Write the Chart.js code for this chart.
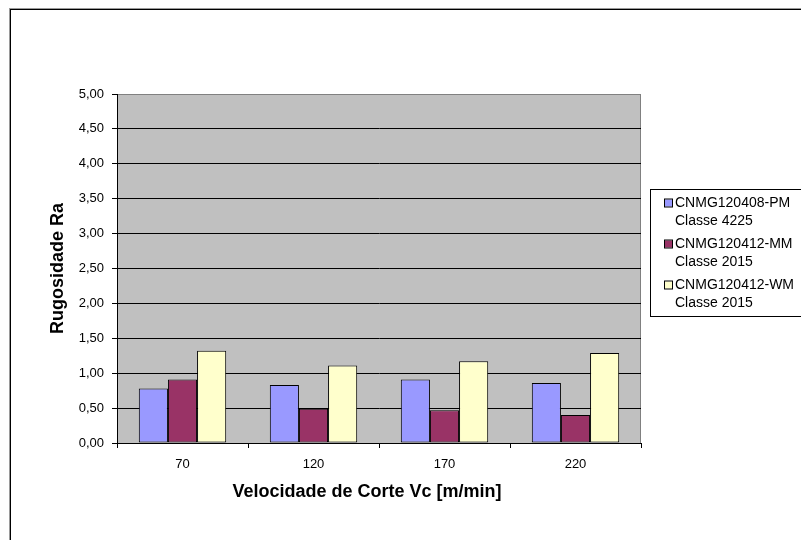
<!DOCTYPE html>
<html>
<head>
<meta charset="utf-8">
<script src="https://cdn.jsdelivr.net/npm/chart.js@4/dist/chart.umd.min.js"></script>
<style>
  html, body { margin: 0; padding: 0; background: #fff; }
  #wrap { position: relative; width: 801px; height: 540px; overflow: hidden; }
  #frame { position: absolute; left: 10px; top: 9px; width: 900px; height: 700px;
           border-left: 1px solid #000; border-top: 1px solid #000;
           box-shadow: -1px -1px 0 #9a9a9a; }
  canvas { position: absolute; left: 0; top: 0; }
</style>
</head>
<body>
<div id="wrap">
  <div id="frame"></div>
  <canvas id="chart" width="801" height="540"></canvas>
</div>
<script>
// Cutting speeds (m/min)
const categories = ['70', '120', '170', '220'];

// Surface roughness Ra for each insert
const pmValues = [0.78, 0.83, 0.91, 0.86];
const mmValues = [0.91, 0.49, 0.47, 0.40];
const wmValues = [1.32, 1.11, 1.17, 1.29];

// Legend entries (two lines each)
const seriesLabels = [
  ['CNMG120408-PM', 'Classe 4225'],
  ['CNMG120412-MM', 'Classe 2015'],
  ['CNMG120412-WM', 'Classe 2015']
];
const seriesColors = ['#9999FF', '#993366', '#FFFFCC'];

const yMin = 0, yMax = 5, yStep = 0.5;
const xTitle = 'Velocidade de Corte Vc [m/min]';
const yTitle = 'Rugosidade Ra';

const FONT = '"Liberation Sans", Arial, sans-serif';

// Gray plot background with a thin gray border
const plotBackground = {
  id: 'plotBackground',
  beforeDraw(chart) {
    const { ctx, chartArea: a } = chart;
    ctx.save();
    ctx.fillStyle = '#C0C0C0';
    ctx.fillRect(a.left, a.top, a.right - a.left, a.bottom - a.top);
    ctx.strokeStyle = '#808080';
    ctx.lineWidth = 1;
    ctx.strokeRect(a.left + 0.5, a.top + 0.5, a.right - a.left - 1, a.bottom - a.top);
    ctx.restore();
  }
};

// Axis titles
const axisTitles = {
  id: 'axisTitles',
  afterDraw(chart) {
    const { ctx, chartArea: a } = chart;
    ctx.save();
    ctx.fillStyle = '#000';
    ctx.font = 'bold 18px ' + FONT;
    ctx.textAlign = 'center';
    ctx.textBaseline = 'middle';
    ctx.fillText(xTitle, (a.left + a.right) / 2 - 12, 492);
    ctx.translate(58, (a.top + a.bottom) / 2);
    ctx.rotate(-Math.PI / 2);
    ctx.fillText(yTitle, 0, 0);
    ctx.restore();
  }
};

// Boxed legend with two-line entries (box runs past the right edge)
const boxLegend = {
  id: 'boxLegend',
  afterDraw(chart) {
    const { ctx } = chart;
    const left = 650, top = 189, right = 812, bottom = 317;
    ctx.save();
    ctx.fillStyle = '#fff';
    ctx.fillRect(left, top, right - left, bottom - top);
    ctx.strokeStyle = '#000';
    ctx.lineWidth = 1;
    ctx.strokeRect(left + 0.5, top + 0.5, right - left - 1, bottom - top - 1);
    ctx.font = '14px ' + FONT;
    ctx.textBaseline = 'middle';
    ctx.textAlign = 'left';
    chart.data.datasets.forEach((ds, i) => {
      const y0 = 203 + i * 41;
      ctx.fillStyle = ds.backgroundColor;
      ctx.fillRect(665, y0 - 3.5, 7, 7);
      ctx.strokeStyle = '#000';
      ctx.strokeRect(664.5, y0 - 4, 8, 8);
      ctx.fillStyle = '#000';
      ctx.fillText(ds.label[0], 675, y0);
      ctx.fillText(ds.label[1], 675, y0 + 18);
    });
    ctx.restore();
  }
};

const fmt = v => v.toFixed(2).replace('.', ',');

new Chart(document.getElementById('chart'), {
  type: 'bar',
  data: {
    labels: categories,
    datasets: [pmValues, mmValues, wmValues].map((vals, i) => ({
      label: seriesLabels[i],
      data: vals,
      backgroundColor: seriesColors[i],
      borderColor: '#000',
      borderWidth: 1,
      borderSkipped: false,
      categoryPercentage: 0.667,
      barPercentage: 1.0
    }))
  },
  options: {
    responsive: false,
    animation: false,
    devicePixelRatio: 1,
    layout: { padding: { left: 0, right: 160, top: 94, bottom: 0 } },
    plugins: { legend: { display: false }, tooltip: { enabled: false }, title: { display: false } },
    scales: {
      x: {
        afterFit(scale) { scale.height = 97; },
        grid: { offset: true, drawOnChartArea: false, drawTicks: true, tickLength: 5, tickColor: '#000' },
        border: { display: true, color: '#000', width: 1 },
        ticks: { color: '#000', font: { family: FONT, size: 13 }, padding: 9 }
      },
      y: {
        min: yMin, max: yMax,
        afterFit(scale) { scale.width = 117; },
        grid: {
          color: c => (c.tick && c.tick.value === yMax) ? 'rgba(0,0,0,0)' : '#000',
          lineWidth: 1, drawTicks: true, tickLength: 5, tickColor: '#000'
        },
        border: { display: true, color: '#000', width: 1 },
        ticks: { stepSize: yStep, color: '#000', font: { family: FONT, size: 13 }, padding: 8, callback: v => fmt(v) }
      }
    }
  },
  plugins: [plotBackground, axisTitles, boxLegend]
});
</script>
</body>
</html>
